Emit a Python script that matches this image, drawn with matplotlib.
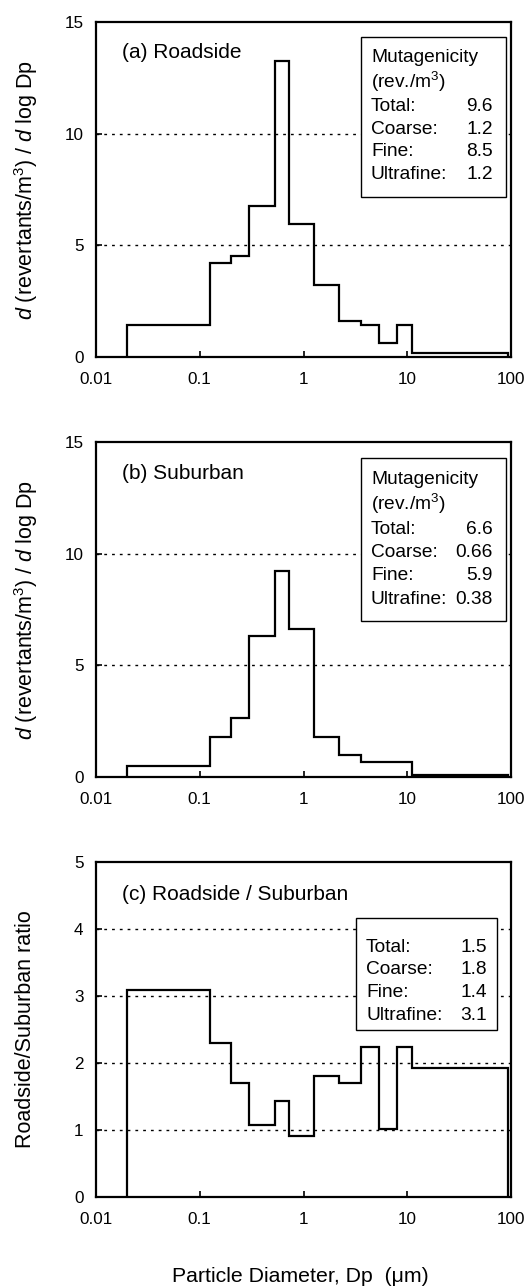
import matplotlib
matplotlib.use("Agg")
import matplotlib.pyplot as plt
from matplotlib.patches import Rectangle

plt.rcParams['font.family'] = ['Liberation Sans', 'DejaVu Sans']
plt.rcParams['mathtext.fontset'] = 'custom'
plt.rcParams['mathtext.rm'] = 'Liberation Sans'
plt.rcParams['mathtext.it'] = 'Liberation Sans:italic'

# impactor stage boundaries (um)
edges = [0.02, 0.126, 0.2, 0.3, 0.53, 0.72, 1.27, 2.2, 3.6, 5.3, 8.0, 11.0, 93.0]

# d(revertants/m3)/dlogDp per stage
roadside = [1.43, 4.2, 4.53, 6.76, 13.27, 5.96, 3.23, 1.61, 1.44, 0.63, 1.44, 0.18]
suburban = [0.49, 1.80, 2.62, 6.30, 9.21, 6.63, 1.80, 0.99, 0.69, 0.69, 0.69, 0.09]
ratio = [3.09, 2.30, 1.70, 1.07, 1.44, 0.91, 1.81, 1.70, 2.24, 1.01, 2.24, 1.93]

# summary boxes
size_classes = ['Total:', 'Coarse:', 'Fine:', 'Ultrafine:']
roadside_summary = ['9.6', '1.2', '8.5', '1.2']
suburban_summary = ['6.6', '0.66', '5.9', '0.38']
ratio_summary = ['1.5', '1.8', '1.4', '3.1']

xticks = [0.01, 0.1, 1, 10, 100]
xticklabels = ['0.01', '0.1', '1', '10', '100']

W, H = 530, 1286
fig = plt.figure(figsize=(W / 100, H / 100), dpi=100)


def fx(x):
    return x / W


def fy(y):
    return 1 - y / H


def make_axes(top, bottom, values, ymax, yticks, grid):
    ax = fig.add_axes([fx(96), fy(bottom), fx(511) - fx(96), fy(top) - fy(bottom)])
    ax.set_xscale('log')
    ax.set_xlim(0.01, 100)
    ax.set_ylim(0, ymax)
    ax.stairs(values, edges, baseline=0, color='black', lw=1.6, zorder=3)
    for g in grid:
        ax.axhline(g, color='black', lw=1.0, ls=(0, (2.0, 3.6)), zorder=1)
    ax.set_xticks(xticks)
    ax.set_xticklabels(xticklabels)
    ax.xaxis.set_minor_locator(matplotlib.ticker.NullLocator())
    ax.set_yticks(yticks)
    ax.tick_params(direction='in', length=4, width=1.2, labelsize=12.3, pad=9)
    ax.tick_params(axis='x', pad=11)
    for s in ax.spines.values():
        s.set_linewidth(1.6)
    return ax


def summary_box(x0, y0, x1, y1, header, values, first_line, spacing, xl, xr):
    fig.add_artist(Rectangle((fx(x0), fy(y1)), fx(x1) - fx(x0), fy(y0) - fy(y1),
                             transform=fig.transFigure, facecolor='white',
                             edgecolor='black', lw=1.0, zorder=5))
    y = first_line
    for h in header:
        fig.text(fx(xl), fy(y), h, fontsize=13.8, ha='left', va='center', zorder=6)
        y += spacing + 1.5
    for lab, val in zip(size_classes, values):
        fig.text(fx(xl), fy(y), lab, fontsize=13.8, ha='left', va='center', zorder=6)
        fig.text(fx(xr), fy(y), val, fontsize=13.8, ha='right', va='center', zorder=6)
        y += spacing


ylab = r'$\it{d}$ (revertants/m$^3$) / $\it{d}$ log Dp'

ax1 = make_axes(22, 357, roadside, 15, [0, 5, 10, 15], [5, 10])
ax1.set_ylabel(ylab, fontsize=15.5)
ax1.yaxis.set_label_coords(-0.135, 0.5)
fig.text(fx(122), fy(52), '(a) Roadside', fontsize=15, ha='left', va='center')
summary_box(361, 37, 506, 197, ['Mutagenicity', '(rev./m$^3$)'], roadside_summary,
            58, 22.7, 371, 493)

ax2 = make_axes(442, 777, suburban, 15, [0, 5, 10, 15], [5, 10])
ax2.set_ylabel(ylab, fontsize=15.5)
ax2.yaxis.set_label_coords(-0.135, 0.5)
fig.text(fx(122), fy(473), '(b) Suburban', fontsize=15, ha='left', va='center')
summary_box(361, 458, 506, 621, ['Mutagenicity', '(rev./m$^3$)'], suburban_summary,
            479, 23.5, 371, 493)

ax3 = make_axes(862, 1197, ratio, 5, [0, 1, 2, 3, 4, 5], [1, 2, 3, 4])
ax3.set_ylabel('Roadside/Suburban ratio', fontsize=15.5)
ax3.yaxis.set_label_coords(-0.145, 0.5)
fig.text(fx(122), fy(895), '(c) Roadside / Suburban', fontsize=15, ha='left', va='center')
summary_box(356, 918, 497, 1030, [], ratio_summary, 947, 22.8, 366, 487)

fig.text(fx(300), fy(1276), 'Particle Diameter, Dp  (μm)', fontsize=15.3,
         ha='center', va='center')

fig.savefig('out.png', dpi=100)
